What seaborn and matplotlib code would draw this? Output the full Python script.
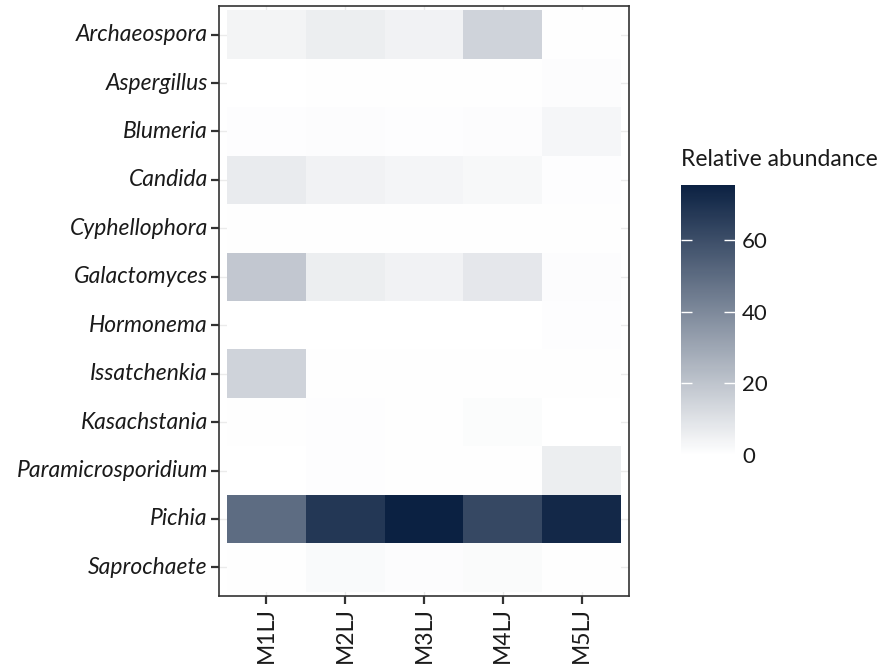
import numpy as np
import pandas as pd
import matplotlib
matplotlib.use("Agg")
import matplotlib.pyplot as plt
from matplotlib.colors import LinearSegmentedColormap
import seaborn as sns

genera = ["Archaeospora", "Aspergillus", "Blumeria", "Candida", "Cyphellophora",
          "Galactomyces", "Hormonema", "Issatchenkia", "Kasachstania",
          "Paramicrosporidium", "Pichia", "Saprochaete"]
samples = ["M1LJ", "M2LJ", "M3LJ", "M4LJ", "M5LJ"]

archaeospora = [4.0, 6.0, 4.5, 15.0, 0.5]
aspergillus = [0.0, 0.5, 0.5, 0.5, 1.0]
blumeria = [0.8, 1.0, 0.7, 1.0, 3.0]
candida = [7.0, 4.5, 3.5, 2.5, 0.8]
cyphellophora = [0.5, 0.5, 0.5, 0.5, 0.3]
galactomyces = [19.0, 6.0, 4.5, 8.0, 1.0]
hormonema = [0.0, 0.0, 0.0, 0.0, 0.6]
issatchenkia = [15.0, 0.5, 0.5, 0.5, 0.5]
kasachstania = [0.5, 0.8, 0.3, 1.2, 0.0]
paramicrosporidium = [0.0, 0.8, 0.5, 0.5, 6.0]
pichia = [50.0, 68.0, 75.4, 62.0, 73.0]
saprochaete = [0.5, 2.0, 1.0, 1.5, 0.3]

rows = [archaeospora, aspergillus, blumeria, candida, cyphellophora, galactomyces,
        hormonema, issatchenkia, kasachstania, paramicrosporidium, pichia, saprochaete]
abundance = pd.DataFrame(rows, index=genera, columns=samples)

sns.set_theme(style="white")
plt.rcParams["font.family"] = ["Lato", "DejaVu Sans"]

cmap = LinearSegmentedColormap.from_list("navy", ["#FFFFFF", "#0B2142"])

fig = plt.figure(figsize=(8.83, 6.71), dpi=100)
ax = fig.add_axes([219 / 883, 1 - 596 / 671, 410 / 883, 590 / 671])
cax = fig.add_axes([681 / 883, 1 - 455 / 671, 54 / 883, 270 / 671])

sns.heatmap(abundance, ax=ax, cbar_ax=cax, cmap=cmap, vmin=0,
            vmax=abundance.values.max(), linewidths=0, square=False)

# faint major grid behind the tiles, like a bw panel
ax.set_axisbelow(True)
ax.grid(True, color="#ebebeb", linewidth=1.0, zorder=0)
for coll in ax.collections:
    coll.set_zorder(1)

ax.set_xlim(-0.1, 5.1)
ax.set_ylim(12.09, -0.09)

for side in ["left", "right", "top", "bottom"]:
    ax.spines[side].set_visible(True)
    ax.spines[side].set_color("#333333")
    ax.spines[side].set_linewidth(1.2)
    ax.spines[side].set_zorder(3)

ax.tick_params(axis="both", which="major", length=6, width=1.6, color="#333333",
               bottom=True, left=True, labelsize=16.5, labelcolor="#1a1a1a", pad=2)
ax.set_yticklabels(genera, rotation=0, fontstyle="italic")
ax.set_xticklabels(samples, rotation=90)
ax.set_xlabel("")
ax.set_ylabel("")

cbar = ax.collections[0].colorbar
cbar.outline.set_visible(False)
cbar.set_ticks([0, 20, 40, 60])
cax.set_axisbelow(False)
cax.tick_params(axis="y", direction="in", length=8, width=1, color="white",
                left=True, right=True, labelsize=16, labelcolor="#1a1a1a", pad=5)
cax.set_title("Relative abundance", fontsize=16.5, loc="left", pad=14, x=0.0,
              color="#1a1a1a")

fig.savefig("out.png", dpi=100, facecolor="white")
